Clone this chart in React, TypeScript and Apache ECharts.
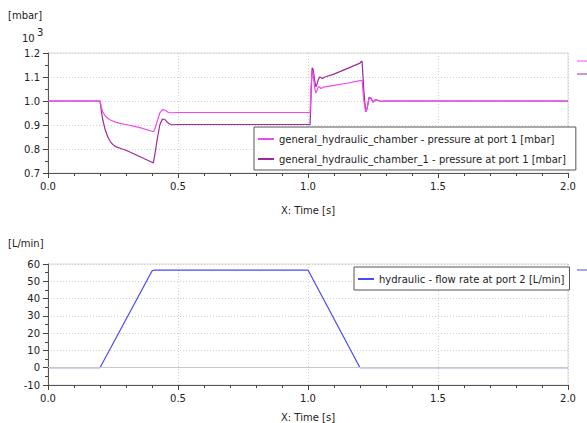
import React, { useEffect, useRef } from "react";
import * as echarts from "echarts";

// ---- data ----
const timePink = [0, 0.2, 0.205, 0.21, 0.22, 0.23, 0.24, 0.26, 0.28, 0.3, 0.35, 0.4, 0.405, 0.41, 0.42, 0.43, 0.44, 0.45, 0.46, 0.47, 0.5, 1.0, 1.008, 1.012, 1.016, 1.02, 1.025, 1.03, 1.035, 1.04, 1.045, 1.05, 1.055, 1.06, 1.1, 1.15, 1.205, 1.208, 1.215, 1.222, 1.228, 1.235, 1.242, 1.25, 1.26, 1.27, 1.28, 1.3, 1.5, 2.0];
const pressurePink = [1.0, 1.0, 0.975, 0.955, 0.938, 0.928, 0.921, 0.912, 0.906, 0.902, 0.89, 0.874, 0.872, 0.88, 0.915, 0.95, 0.964, 0.962, 0.954, 0.951, 0.952, 0.952, 0.952, 1.06, 1.128, 1.11, 1.06, 1.033, 1.045, 1.06, 1.058, 1.052, 1.055, 1.058, 1.065, 1.074, 1.086, 1.086, 1.0, 0.955, 0.975, 1.014, 1.01, 0.996, 1.005, 1.002, 0.999, 1.0, 1.0, 1.0];

const timePurple = [0, 0.2, 0.205, 0.21, 0.22, 0.23, 0.24, 0.25, 0.26, 0.28, 0.3, 0.35, 0.4, 0.405, 0.41, 0.42, 0.43, 0.44, 0.45, 0.46, 0.47, 0.48, 0.5, 1.0, 1.008, 1.012, 1.016, 1.02, 1.025, 1.03, 1.035, 1.04, 1.045, 1.05, 1.055, 1.06, 1.065, 1.1, 1.15, 1.2, 1.205, 1.208, 1.215, 1.222, 1.228, 1.235, 1.242, 1.25, 1.26, 1.27, 1.28, 1.3, 1.5, 2.0];
const pressurePurple = [1.0, 1.0, 0.96, 0.925, 0.88, 0.85, 0.83, 0.818, 0.81, 0.802, 0.795, 0.77, 0.745, 0.742, 0.77, 0.84, 0.9, 0.925, 0.922, 0.91, 0.903, 0.901, 0.902, 0.902, 0.902, 1.03, 1.138, 1.13, 1.09, 1.06, 1.07, 1.09, 1.1, 1.098, 1.094, 1.097, 1.1, 1.112, 1.135, 1.158, 1.165, 1.165, 1.04, 0.955, 0.97, 1.016, 1.012, 0.995, 1.006, 1.002, 0.999, 1.0, 1.0, 1.0];

const timeFlow = [0, 0.2, 0.4, 0.41, 1.0, 1.2, 2.0];
const flowRate = [0, 0, 56, 56.5, 56.5, 0, 0];

const seriesNames = [
  "general_hydraulic_chamber - pressure at port 1 [mbar]",
  "general_hydraulic_chamber_1 - pressure at port 1 [mbar]",
  "hydraulic - flow rate at port 2 [L/min]",
];
const colors = ["#f048f0", "#9c2a9c", "#4a4af5"];

const FONT = "DejaVu Sans";
const FS = 10;

const zip = (xs: number[], ys: number[]) => xs.map((x, i) => [x, ys[i]]);

function xAxisCfg(gridIndex: number, nameGap: number) {
  return {
    type: "value",
    gridIndex,
    min: 0,
    max: 2,
    interval: 0.5,
    name: "X: Time [s]",
    nameLocation: "middle",
    nameGap,
    nameTextStyle: { color: "#222", fontFamily: FONT, fontSize: FS },
    axisLine: { show: true, onZero: false, lineStyle: { color: "#555", width: 1 } },
    axisTick: { show: true, inside: false, length: 5, lineStyle: { color: "#444" } },
    minorTick: { show: true, splitNumber: 5, length: 3, lineStyle: { color: "#444" } },
    axisLabel: { color: "#222", fontFamily: FONT, fontSize: FS, margin: 8, formatter: (v: number) => v.toFixed(1) },
    splitLine: { show: true, lineStyle: { color: "#cfcfcf", type: [1, 2] } },
  };
}

function yAxisCfg(gridIndex: number, min: number, max: number, interval: number, dec: number) {
  return {
    type: "value",
    gridIndex,
    min,
    max,
    interval,
    axisLine: { show: true, lineStyle: { color: "#555", width: 1 } },
    axisTick: { show: true, inside: false, length: 5, lineStyle: { color: "#444" } },
    minorTick: { show: true, splitNumber: 2, length: 3, lineStyle: { color: "#444" } },
    axisLabel: { color: "#222", fontFamily: FONT, fontSize: FS, margin: 8, formatter: (v: number) => v.toFixed(dec) },
    splitLine: { show: true, lineStyle: { color: "#cfcfcf", type: [1, 2] } },
  };
}

export default function App() {
  const ref = useRef<HTMLDivElement>(null);
  useEffect(() => {
    if (!ref.current) return;
    const chart = echarts.init(ref.current, undefined, { renderer: "svg" });
    const legendCommon = {
      orient: "vertical",
      backgroundColor: "#fff",
      borderColor: "#555",
      borderWidth: 1,
      borderRadius: 0,
      icon: "rect",
      itemWidth: 16,
      itemHeight: 2,
      itemGap: 6,
      textStyle: { color: "#222", fontFamily: FONT, fontSize: FS, lineHeight: 14 },
    };
    chart.setOption({
      animation: false,
      backgroundColor: "#fff",
      textStyle: { fontFamily: FONT },
      grid: [
        { left: 48, top: 53, width: 520, height: 120, show: true, borderColor: "#dcdcdc", borderWidth: 1 },
        { left: 48, top: 264, width: 520, height: 121, show: true, borderColor: "#dcdcdc", borderWidth: 1 },
      ],
      xAxis: [xAxisCfg(0, 32), xAxisCfg(1, 27)],
      yAxis: [yAxisCfg(0, 0.7, 1.2, 0.1, 1), yAxisCfg(1, -10, 60, 10, 0)],
      legend: [
        {
          ...legendCommon,
          data: [seriesNames[0], seriesNames[1]],
          left: 254,
          top: 127,
          padding: [5, 10, 4, 4],
        },
        {
          ...legendCommon,
          data: [seriesNames[2]],
          left: 354,
          top: 267,
          padding: [5, 5, 4, 4],
        },
      ],
      graphic: [
        { type: "text", left: 8, top: 10, style: { text: "[mbar]", fill: "#222", font: `${FS}px '${FONT}'` } },
        { type: "text", left: 22, top: 33, style: { text: "10", fill: "#222", font: `${FS}px '${FONT}'` } },
        { type: "text", left: 37, top: 27, style: { text: "3", fill: "#222", font: `${FS}px '${FONT}'` } },
        { type: "text", left: 8, top: 238, style: { text: "[L/min]", fill: "#222", font: `${FS}px '${FONT}'` } },
        { type: "line", shape: { x1: 577, y1: 61, x2: 590, y2: 61 }, style: { stroke: colors[0], lineWidth: 1 } },
        { type: "line", shape: { x1: 577, y1: 74, x2: 590, y2: 74 }, style: { stroke: colors[1], lineWidth: 1 } },
        { type: "line", shape: { x1: 577, y1: 270, x2: 590, y2: 270 }, style: { stroke: colors[2], lineWidth: 1 } },
      ],
      series: [
        {
          name: seriesNames[0],
          type: "line",
          xAxisIndex: 0,
          yAxisIndex: 0,
          data: zip(timePink, pressurePink),
          symbol: "none",
          color: colors[0],
          lineStyle: { width: 1.2, color: colors[0] },
          z: 3,
        },
        {
          name: seriesNames[1],
          type: "line",
          xAxisIndex: 0,
          yAxisIndex: 0,
          data: zip(timePurple, pressurePurple),
          symbol: "none",
          color: colors[1],
          lineStyle: { width: 1.2, color: colors[1] },
          z: 2,
        },
        {
          name: seriesNames[2],
          type: "line",
          xAxisIndex: 1,
          yAxisIndex: 1,
          data: zip(timeFlow, flowRate),
          symbol: "none",
          color: colors[2],
          lineStyle: { width: 1.2, color: colors[2] },
          markLine: {
            silent: true,
            symbol: "none",
            label: { show: false },
            lineStyle: { color: "#c8c8c8", type: "solid", width: 1 },
            data: [{ yAxis: 0 }],
          },
        },
      ],
    });
    return () => chart.dispose();
  }, []);
  return <div ref={ref} style={{ position: "absolute", left: 0, top: 0, width: 587, height: 423 }} />;
}
